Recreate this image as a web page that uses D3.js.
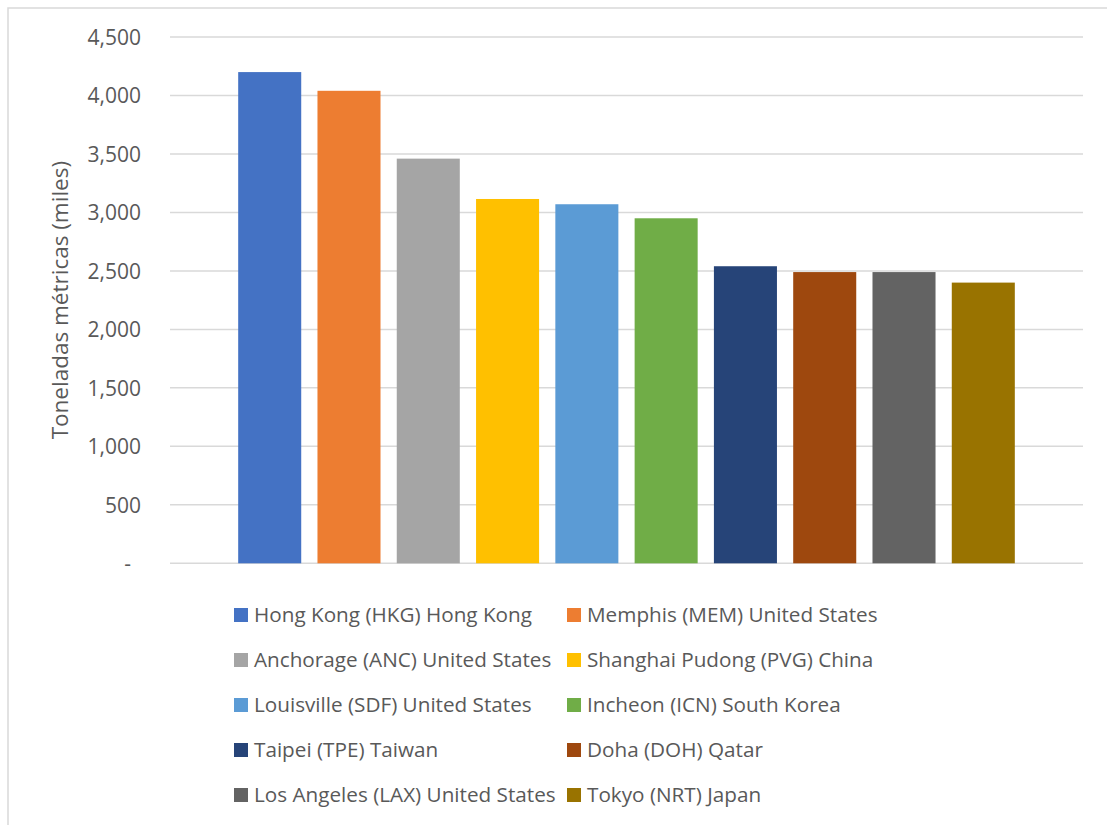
<!DOCTYPE html>
<html>
<head>
<meta charset="utf-8">
<script src="https://cdn.jsdelivr.net/npm/d3@7/dist/d3.min.js"></script>
<style>
  html, body { margin: 0; padding: 0; background: #ffffff; }
  svg { display: block; font-family: "Open Sans", "Noto Sans", sans-serif; }
</style>
</head>
<body>
<svg id="chart" width="1107" height="825"></svg>
<script>
// Air cargo volume by airport, thousands of metric tonnes
const airports = [
  "Hong Kong (HKG) Hong Kong",
  "Memphis (MEM) United States",
  "Anchorage (ANC) United States",
  "Shanghai Pudong (PVG) China",
  "Louisville (SDF) United States",
  "Incheon (ICN) South Korea",
  "Taipei (TPE) Taiwan",
  "Doha (DOH) Qatar",
  "Los Angeles (LAX) United States",
  "Tokyo (NRT) Japan"
];
const tonnes = [4200, 4040, 3460, 3115, 3070, 2950, 2540, 2490, 2490, 2400];
const colors = ["#4472c4", "#ed7d31", "#a5a5a5", "#ffc000", "#5b9bd5",
                "#70ad47", "#264478", "#9e480e", "#636363", "#997300"];
const yTicks = [0, 500, 1000, 1500, 2000, 2500, 3000, 3500, 4000, 4500];
const yTitle = "Toneladas métricas (miles)";

const svg = d3.select("#chart");
const textColor = "#595959";
const gridColor = "#d9d9d9";

// outer chart frame
svg.append("rect")
  .attr("x", 8).attr("y", 8)
  .attr("width", 1120).attr("height", 840)
  .attr("fill", "none")
  .attr("stroke", gridColor)
  .attr("stroke-width", 1.5);

const plot = { left: 170, right: 1083, top: 37, bottom: 563.3 };

const y = d3.scaleLinear()
  .domain([0, 4500])
  .range([plot.bottom, plot.top]);

const x = d3.scaleBand()
  .domain(airports)
  .range([plot.left, plot.right])
  .paddingInner(0.205)
  .paddingOuter(0.86);

// horizontal gridlines
svg.append("g")
  .selectAll("line")
  .data(yTicks)
  .join("line")
  .attr("x1", plot.left).attr("x2", plot.right)
  .attr("y1", d => y(d)).attr("y2", d => y(d))
  .attr("stroke", gridColor)
  .attr("stroke-width", 1.5);

// y axis labels
const yAxis = d3.axisLeft(y)
  .tickValues(yTicks)
  .tickSize(0)
  .tickPadding(0)
  .tickFormat(d => d === 0 ? "-" : d3.format(",")(d));

const yg = svg.append("g")
  .attr("transform", `translate(141,0)`)
  .call(yAxis);
yg.select(".domain").remove();
yg.selectAll("text")
  .attr("fill", textColor)
  .attr("font-size", 21)
  .attr("dx", d => d === 0 ? -10 : 0)
  .attr("dy", "0.35em")
  .style("font-family", "'Open Sans', 'Noto Sans', sans-serif");

// y axis title
svg.append("text")
  .attr("transform", `translate(68,${(plot.top + plot.bottom) / 2}) rotate(-90)`)
  .attr("text-anchor", "middle")
  .attr("fill", textColor)
  .attr("font-size", 22.5)
  .text(yTitle);

// bars
svg.append("g")
  .selectAll("rect")
  .data(airports)
  .join("rect")
  .attr("x", d => x(d))
  .attr("width", x.bandwidth())
  .attr("y", (d, i) => y(tonnes[i]))
  .attr("height", (d, i) => y(0) - y(tonnes[i]))
  .attr("fill", (d, i) => colors[i]);

// legend, two columns
const legendCols = [234, 567];
const legendRow0 = 615, legendRowStep = 45;
const legend = svg.append("g")
  .selectAll("g")
  .data(airports)
  .join("g")
  .attr("transform", (d, i) =>
    `translate(${legendCols[i % 2]},${legendRow0 + Math.floor(i / 2) * legendRowStep})`);

legend.append("rect")
  .attr("x", 0).attr("y", -7)
  .attr("width", 14).attr("height", 14)
  .attr("fill", (d, i) => colors[i]);

legend.append("text")
  .attr("x", 20)
  .attr("dy", "0.35em")
  .attr("fill", textColor)
  .attr("font-size", 20.7)
  .text(d => d);
</script>
</body>
</html>
